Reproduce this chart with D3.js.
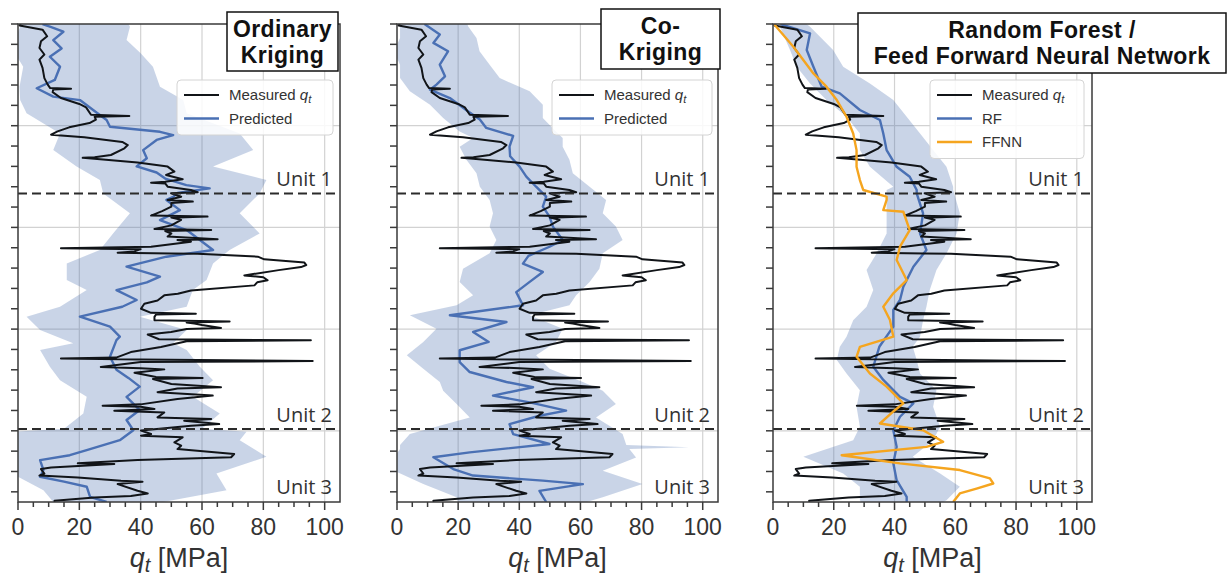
<!DOCTYPE html>
<html>
<head>
<meta charset="utf-8">
<script src="https://cdn.jsdelivr.net/npm/d3@7"></script>
<style>
  html, body { margin: 0; padding: 0; background: #fff; }
  svg { display: block; }
</style>
</head>
<body>
<svg id="chart" width="1227" height="575"></svg>
<script>
// ---------------------------------------------------------------
// CPT profile: cone resistance q_t [MPa] against depth [m]
// ---------------------------------------------------------------
const depthTicks = d3.range(0, 24);          // 1 m ticks on the depth axis
const depthGrid = [5, 10, 15, 20];
const qtTicks = [0, 20, 40, 60, 80, 100];
const qtMinorTicks = d3.range(0, 105, 5);
const unitBoundaries = [8.33, 19.91];        // Unit 1 / Unit 2 / Unit 3 contacts [m]
const unitNames = ["Unit 1", "Unit 2", "Unit 3"];

// measured cone resistance [depth m, qt MPa]
const measured = [
  [0.0, 1], [0.07, 0.5], [0.28, 8], [0.6, 9.5], [0.85, 7.5], [1.18, 7], [1.5, 8.6], [1.75, 7],
  [2.16, 8], [2.66, 8.6], [2.98, 9.7], [3.15, 10.5], [3.18, 17.3], [3.22, 11.5], [3.35, 11.3],
  [3.64, 14], [3.93, 20], [4.1, 22.2], [4.46, 23.8], [4.52, 36.3], [4.56, 25], [4.7, 25.4],
  [4.87, 23.3], [5.08, 16.7], [5.28, 12.9], [5.44, 10.8], [5.57, 21.6], [5.8, 34], [5.95, 35.8],
  [6.11, 34.7], [6.44, 30.3], [6.55, 25], [6.58, 21.1], [6.62, 24.9], [6.81, 39], [7.01, 48.8],
  [7.26, 51], [7.42, 48.3], [7.63, 53.7], [7.76, 48], [7.8, 43.4], [7.84, 48], [8.0, 48.8],
  [8.16, 56.4], [8.27, 58.6], [8.32, 49.9], [8.49, 53.2], [8.65, 48.8], [8.73, 57], [8.8, 50],
  [8.98, 50], [9.2, 47], [9.42, 43.4], [9.47, 61.8], [9.52, 50], [9.63, 53.2], [9.9, 50],
  [10.08, 44.5], [10.13, 63], [10.18, 48], [10.3, 50], [10.45, 48.8], [10.58, 65.1], [10.62, 52],
  [10.7, 56.4], [10.95, 43.4], [11.02, 14], [11.07, 40], [11.18, 38], [11.24, 32.5], [11.28, 50],
  [11.3, 58.6], [11.44, 78.2], [11.57, 80.3], [11.73, 93.4], [11.85, 94], [11.95, 92.3],
  [12.1, 85], [12.36, 73.8], [12.45, 80], [12.6, 81.4], [12.7, 78], [12.85, 77.1], [13.1, 56.4],
  [13.26, 52.1], [13.34, 47.7], [13.59, 45.5], [13.75, 41.2], [14.0, 40.1], [14.2, 43.4],
  [14.24, 58], [14.28, 45], [14.4, 44.5], [14.57, 44.5], [14.62, 69], [14.67, 55], [14.73, 57.5],
  [14.8, 60], [14.95, 66.2], [15.0, 55], [15.14, 49.9], [15.27, 42.3], [15.5, 46], [15.55, 95.5],
  [15.6, 55], [15.88, 46.6], [16.13, 36.8], [16.4, 32], [16.45, 14], [16.5, 40], [16.57, 96.1],
  [16.62, 40], [16.86, 27], [16.92, 40], [16.98, 47.7], [17.15, 38], [17.35, 45], [17.4, 60.2],
  [17.45, 44], [17.7, 50], [17.86, 66.2], [17.92, 52], [18.1, 45.5], [18.27, 63.5], [18.44, 52],
  [18.7, 40], [18.77, 27.6], [18.82, 40], [18.93, 44.5], [19.01, 31.4], [19.1, 47.7], [19.34, 45.5],
  [19.42, 63], [19.5, 54.2], [19.67, 65.6], [19.75, 56.4], [19.99, 40.1], [20.16, 43.4],
  [20.24, 40.1], [20.32, 53.7], [20.57, 51], [20.73, 53.2], [20.9, 52], [21.14, 70.5],
  [21.3, 69.5], [21.44, 39], [21.6, 19.5], [21.63, 31.4], [21.8, 10.8], [21.88, 7.5], [22.1, 8.6],
  [22.2, 7], [22.3, 19.5], [22.45, 33.6], [22.5, 40.6], [22.62, 32.5], [22.95, 39], [23.08, 42.3],
  [23.2, 36.8], [23.28, 24.9], [23.44, 11.9], [23.5, 12]
];

// Ordinary Kriging: prediction and confidence band [depth, lower, upper]
const okPredicted = [
  [0.0, 8], [0.13, 10.4], [0.38, 14.8], [0.79, 11.5], [1.2, 14.2], [1.61, 10.4], [2.1, 13.7],
  [2.75, 12], [3.16, 6.1], [3.57, 11.5], [3.74, 20.2], [4.23, 24.5], [4.72, 28.9], [5.05, 30],
  [5.3, 46.3], [5.46, 50.6], [5.7, 45.2], [6.2, 40.8], [6.6, 42], [7.0, 38.7], [7.3, 45.2],
  [7.6, 48], [7.92, 54.9], [8.08, 62.5], [8.3, 52], [8.5, 50.6], [8.65, 48.4], [9.15, 52.8],
  [9.64, 46.3], [10.13, 55], [10.62, 59.3], [11.11, 63.6], [11.44, 48.4], [11.93, 35.4],
  [12.42, 46.3], [12.7, 42], [13.08, 32.1], [13.57, 38.7], [13.9, 34], [14.39, 20.2], [14.88, 30],
  [15.37, 33.2], [15.54, 32.1], [16.36, 30], [17.0, 32.1], [17.4, 36], [17.83, 39.7], [18.33, 35.4],
  [18.98, 39.7], [19.47, 35.4], [19.97, 37.6], [20.46, 33.2], [20.95, 22.4], [21.2, 16.9],
  [21.44, 7.2], [21.93, 8.3], [22.26, 7.2], [22.5, 15], [22.75, 22.4], [23.25, 23.5], [23.5, 28.9]
];
const okBand = [
  [0.0, 1, 36], [0.13, 0.7, 36.5], [0.79, -1, 35.4], [1.44, -1, 40], [2.1, 1.7, 44], [3.08, 0.5, 46.3],
  [3.74, 0.7, 53.9], [4.39, 2.8, 55], [5.38, 13.7, 72.3], [6.2, 11.5, 76.7], [7.0, 19.1, 63.6],
  [7.67, 26.7, 81], [8.33, 27.8, 78.8], [9.31, 36.5, 72.3], [10.3, 31, 78.8], [11.11, 26.7, 69],
  [11.77, 15.9, 63.6], [12.59, 15.9, 61.5], [13.08, 22.4, 57], [13.9, 13.7, 55], [14.39, 2.8, 39.7],
  [15.05, 7.2, 55], [15.7, 18, 50.6], [16.03, 7.2, 55], [16.85, 10.4, 59.3], [17.51, 13.7, 63.6],
  [18.33, 22.4, 57], [19.15, 21.3, 65.8], [19.9, 15, 60], [20.05, -2, 74.5], [20.46, -2, 72.3],
  [21.28, -2, 81], [22.1, -2, 64.7], [22.92, 8.3, 68], [23.5, 11.5, 47.3]
];

// Co-Kriging
const ckPredicted = [
  [0.0, 9], [0.07, 9.7], [0.52, 14], [0.93, 11.9], [1.34, 16.7], [2.0, 14], [2.57, 15.7],
  [2.98, 12.9], [3.23, 10.8], [3.64, 17.3], [4.3, 23.3], [4.7, 27.1], [5.11, 29.2], [5.5, 38],
  [6.03, 36.8], [6.5, 37], [7.01, 40.1], [7.5, 42.3], [8.0, 45.5], [8.49, 48.8], [8.98, 47.7],
  [9.47, 49.9], [9.96, 51], [10.62, 54.2], [10.95, 49.9], [11.4, 43], [11.78, 41.2], [12.19, 47.7],
  [12.68, 43.4], [13.18, 39], [13.83, 41.2], [14.32, 17.3], [14.65, 35.8], [15.14, 24.9],
  [15.63, 30], [16.04, 20.5], [16.62, 20.5], [17.11, 23.8], [17.6, 35.8], [17.86, 44.5],
  [18.27, 31.4], [18.6, 43.4], [19.01, 55.3], [19.26, 46.6], [19.67, 36.8], [20.16, 38],
  [20.65, 49.9], [21.06, 23.8], [21.3, 11.9], [21.88, 18.4], [22.2, 24.9], [22.45, 47.7],
  [22.62, 60.8], [22.95, 46.6], [23.5, 48.8]
];
const ckBand = [
  [0.0, 1, 23], [0.12, 1, 23.3], [0.69, 1, 26], [1.34, -1, 27], [2.0, 1, 30.3], [2.66, 1, 33.6],
  [3.31, 4.2, 43.4], [3.97, 10.8, 47.7], [4.62, 15.1, 47.7], [5.28, 20.5, 52], [5.6, 24.9, 54.2],
  [6.03, 20.5, 54.2], [6.68, 22.7, 56.4], [7.34, 26, 57.5], [8.0, 27.1, 63], [8.65, 30.3, 68.4],
  [9.31, 31.4, 67.3], [9.96, 30.3, 71.6], [10.62, 32.5, 73.8], [11.27, 30.3, 67.3],
  [12.03, 21.6, 66.2], [12.68, 20.5, 63], [13.34, 24.9, 58.6], [13.83, 19.5, 56.4],
  [14.32, 4.2, 43.4], [14.98, 12.9, 54.2], [15.63, 8.6, 52], [16.29, 3.2, 45.5], [16.95, 8.6, 49.9],
  [17.6, 14, 60.8], [18.03, 15.1, 67.3], [18.68, 19.5, 71.6], [19.34, 23.8, 65.1],
  [20.16, 4.2, 73.8], [20.7, 1, 75], [20.81, 1, 95.5], [20.9, 1, 76], [21.31, -1, 78.2],
  [21.96, -1, 67.3], [22.62, 8.6, 80.3], [23.27, 19.5, 67.3], [23.5, 20, 62]
];

// Random Forest prediction with its band, and Feed Forward Neural Network prediction
const rfPredicted = [
  [0.0, 2.5], [0.05, 3.4], [0.46, 12.2], [1.28, 11.1], [2.1, 13.3], [3.08, 16], [3.41, 22],
  [4.23, 28.6], [4.72, 35.2], [5.38, 36.3], [6.2, 37.4], [7.02, 40.7], [7.51, 45], [8.16, 47.3],
  [8.33, 47.3], [9.31, 49.4], [10.3, 48.4], [11.11, 50.5], [11.93, 46.2], [12.92, 42.9],
  [13.57, 41.8], [14.06, 39.6], [14.88, 39.6], [15.87, 35], [16.85, 33], [17.5, 36.3],
  [18.33, 41.8], [18.65, 46.2], [19.31, 41.8], [19.97, 39.6], [20.79, 40.7], [21.6, 39.6],
  [22.43, 40.7], [23.25, 44], [23.5, 44]
];
const rfBand = [
  [0.0, 2, 11], [0.13, 2.3, 12.2], [1.28, 5.6, 19.8], [2.1, 7.8, 23.1], [2.92, 12.2, 31.9],
  [3.74, 17.6, 39.6], [4.56, 24.2, 44], [5.38, 28.6, 48.4], [6.2, 28.6, 52.7], [7.02, 31.9, 57.1],
  [8.0, 39.6, 59.3], [8.16, 37.4, 59.3], [9.31, 37.4, 61.5], [10.3, 37.4, 60.4], [11.28, 34.1, 57.1],
  [12.1, 30.8, 53.8], [13.08, 33, 51.6], [13.9, 30.8, 50.5], [14.56, 26.4, 49.4], [15.37, 24.2, 48.4],
  [15.87, 22, 46], [16.52, 21, 47.3], [17.18, 24.2, 48.4], [18.0, 28.6, 53.8], [18.82, 27.5, 52.7],
  [19.8, 28.6, 55], [20.46, 26.4, 52.7], [21.28, 10, 46], [22.1, 23.1, 55], [22.75, 28.6, 61.5],
  [23.41, 28.6, 57.1], [23.5, 29, 56]
];
const ffnnPredicted = [
  [0.0, 0.5], [0.05, 0.6], [1.12, 6.7], [2.43, 13.3], [3.08, 17.6], [3.74, 21], [4.56, 24.2],
  [5.38, 26.4], [6.2, 27.5], [7.02, 27.5], [7.67, 28.6], [8.16, 29.7], [8.49, 37.4], [8.65, 37.4],
  [9.15, 36.3], [9.23, 42.9], [10.13, 45], [10.95, 41.8], [11.6, 40.7], [12.59, 44], [13.24, 39.6],
  [13.9, 36.3], [14.55, 38.5], [15.37, 39.6], [15.87, 28.6], [16.36, 27.5], [17.18, 31.9],
  [17.83, 37.4], [18.65, 42.9], [19.0, 40], [19.64, 35.2], [19.97, 49.4], [20.54, 56], [20.79, 50.5],
  [21.2, 22.6], [21.6, 41.8], [21.93, 61.5], [22.34, 71.4], [22.59, 72.5], [22.84, 67],
  [23.08, 61.5], [23.5, 59.3]
];

// ---------------------------------------------------------------
const COLORS = {
  measured: "#111418",
  predicted: "#4a70b4",
  band: "#4c72b0",
  ffnn: "#f5a51f",
  spine: "#3a3a3a",
  grid: "#d2d2d2",
  text: "#333333"
};

const panels = [
  {
    x0: 18, x1: 340,
    predicted: okPredicted, band: okBand,
    title: ["Ordinary", "Kriging"], titleBox: { x: 227, y: 12, w: 111, h: 59 },
    legend: { x: 177, y: 80, w: 156 },
    entries: [["measured", "Measured"], ["predicted", "Predicted"]]
  },
  {
    x0: 397, x1: 718,
    predicted: ckPredicted, band: ckBand,
    title: ["Co-", "Kriging"], titleBox: { x: 601, y: 9, w: 119, h: 60 },
    legend: { x: 552, y: 80, w: 160 },
    entries: [["measured", "Measured"], ["predicted", "Predicted"]]
  },
  {
    x0: 773, x1: 1092,
    predicted: rfPredicted, band: rfBand, ffnn: ffnnPredicted,
    title: ["Random Forest /", "Feed Forward Neural Network"], titleBox: { x: 858, y: 13, w: 368, h: 60 },
    legend: { x: 930, y: 80, w: 154 },
    entries: [["measured", "Measured"], ["predicted", "RF"], ["ffnn", "FFNN"]]
  }
];

const svg = d3.select("#chart");
const TOP = 24, BOTTOM = 502;
const y = d3.scaleLinear().domain([0, 23.5]).range([TOP, BOTTOM]);

panels.forEach((p, i) => {
  const x = d3.scaleLinear().domain([0, 105]).range([p.x0, p.x1]);
  const g = svg.append("g");
  const clipId = "clip" + i;
  svg.append("clipPath").attr("id", clipId)
    .append("rect").attr("x", p.x0).attr("y", TOP).attr("width", p.x1 - p.x0).attr("height", BOTTOM - TOP);

  // grid
  const grid = g.append("g");
  grid.selectAll("line.v").data(qtTicks.filter(t => t > 0)).join("line")
    .attr("x1", d => x(d)).attr("x2", d => x(d)).attr("y1", TOP).attr("y2", BOTTOM)
    .attr("stroke", COLORS.grid).attr("stroke-width", 1.2);
  grid.selectAll("line.h").data(depthGrid).join("line")
    .attr("x1", p.x0).attr("x2", p.x1).attr("y1", d => y(d)).attr("y2", d => y(d))
    .attr("stroke", COLORS.grid).attr("stroke-width", 1.2);

  const plot = g.append("g").attr("clip-path", `url(#${clipId})`);

  // confidence band
  const area = d3.area()
    .y(d => y(d[0])).x0(d => x(d[1])).x1(d => x(d[2]));
  plot.append("path").datum(p.band).attr("d", area)
    .attr("fill", COLORS.band).attr("fill-opacity", 0.3);

  const line = d3.line().y(d => y(d[0])).x(d => x(d[1]));

  plot.append("path").datum(p.predicted).attr("d", line)
    .attr("fill", "none").attr("stroke", COLORS.predicted).attr("stroke-width", 2.4)
    .attr("stroke-linejoin", "round");
  plot.append("path").datum(measured).attr("d", line)
    .attr("fill", "none").attr("stroke", COLORS.measured).attr("stroke-width", 2)
    .attr("stroke-linejoin", "round");
  if (p.ffnn) {
    plot.append("path").datum(p.ffnn).attr("d", line)
      .attr("fill", "none").attr("stroke", COLORS.ffnn).attr("stroke-width", 2.4)
      .attr("stroke-linejoin", "round");
  }

  // unit contacts
  g.selectAll("line.unit").data(unitBoundaries).join("line")
    .attr("x1", p.x0).attr("x2", p.x1).attr("y1", d => y(d)).attr("y2", d => y(d))
    .attr("stroke", "#2b2b2b").attr("stroke-width", 2).attr("stroke-dasharray", "9,5");

  // unit labels, placed just above each contact and at the base of the profile
  const unitLabelDepths = [unitBoundaries[0], unitBoundaries[1], 23.5];
  g.selectAll("text.unit").data(unitNames).join("text")
    .attr("x", p.x1 - 8)
    .attr("y", (d, k) => y(unitLabelDepths[k]) - (k === 2 ? 8 : 7))
    .attr("text-anchor", "end")
    .attr("font-family", "'Open Sans', 'Noto Sans', sans-serif")
    .attr("font-size", 20).attr("fill", COLORS.text)
    .text(d => d);

  // frame
  g.append("rect").attr("x", p.x0).attr("y", TOP).attr("width", p.x1 - p.x0).attr("height", BOTTOM - TOP)
    .attr("fill", "none").attr("stroke", COLORS.spine).attr("stroke-width", 1.5);

  // depth ticks
  g.selectAll("line.yt").data(depthTicks).join("line")
    .attr("x1", p.x0 - 7).attr("x2", p.x0).attr("y1", d => y(d)).attr("y2", d => y(d))
    .attr("stroke", COLORS.spine).attr("stroke-width", 1.5);

  // qt ticks
  g.selectAll("line.xm").data(qtMinorTicks).join("line")
    .attr("x1", d => x(d)).attr("x2", d => x(d))
    .attr("y1", BOTTOM).attr("y2", d => BOTTOM + (d % 20 === 0 ? 8 : 5))
    .attr("stroke", COLORS.spine).attr("stroke-width", 1.5);
  g.selectAll("text.xt").data(qtTicks).join("text")
    .attr("x", d => x(d)).attr("y", 535)
    .attr("text-anchor", "middle")
    .attr("font-family", "'Liberation Sans', Arial, sans-serif")
    .attr("font-size", 23).attr("fill", COLORS.text)
    .text(d => d);

  // axis title
  const xt = g.append("text")
    .attr("x", (p.x0 + p.x1) / 2).attr("y", 567)
    .attr("text-anchor", "middle")
    .attr("font-family", "'Liberation Sans', Arial, sans-serif")
    .attr("font-size", 27).attr("fill", COLORS.text);
  xt.append("tspan").attr("font-style", "italic").text("q");
  xt.append("tspan").attr("font-style", "italic").attr("font-size", 20).attr("dy", 5).text("t");
  xt.append("tspan").attr("dy", -5).text(" [MPa]");

  // legend
  const L = p.legend, rowH = 23.5;
  const lg = g.append("g");
  lg.append("rect").attr("x", L.x).attr("y", L.y).attr("width", L.w)
    .attr("height", 8 + rowH * p.entries.length)
    .attr("rx", 4).attr("fill", "#ffffff").attr("fill-opacity", 0.85)
    .attr("stroke", "#d4d4d4").attr("stroke-width", 1);
  p.entries.forEach(([key, label], k) => {
    const cy = L.y + 15 + k * rowH;
    lg.append("line").attr("x1", L.x + 7).attr("x2", L.x + 42).attr("y1", cy).attr("y2", cy)
      .attr("stroke", COLORS[key]).attr("stroke-width", key === "measured" ? 2 : 2.4);
    const t = lg.append("text").attr("x", L.x + 52).attr("y", cy + 5)
      .attr("font-family", "'Liberation Sans', Arial, sans-serif")
      .attr("font-size", 15).attr("fill", COLORS.text);
    t.append("tspan").text(label);
    if (key === "measured") {
      t.append("tspan").attr("font-style", "italic").text(" q");
      t.append("tspan").attr("font-style", "italic").attr("font-size", 11).attr("dy", 3).text("t");
    }
  });

  // method title box with two lines of bold text
  const B = p.titleBox;
  g.append("rect").attr("x", B.x).attr("y", B.y).attr("width", B.w).attr("height", B.h)
    .attr("fill", "#fff").attr("stroke", "#111").attr("stroke-width", 1.5);
  g.selectAll("text.title").data(p.title).join("text")
    .attr("x", B.x + B.w / 2).attr("y", (d, k) => B.y + 25 + k * 26)
    .attr("text-anchor", "middle")
    .attr("font-family", "'Liberation Sans', Arial, sans-serif")
    .attr("font-weight", "bold").attr("font-size", 23).attr("letter-spacing", 0.4)
    .attr("fill", "#111")
    .text(d => d);
});
</script>
</body>
</html>
